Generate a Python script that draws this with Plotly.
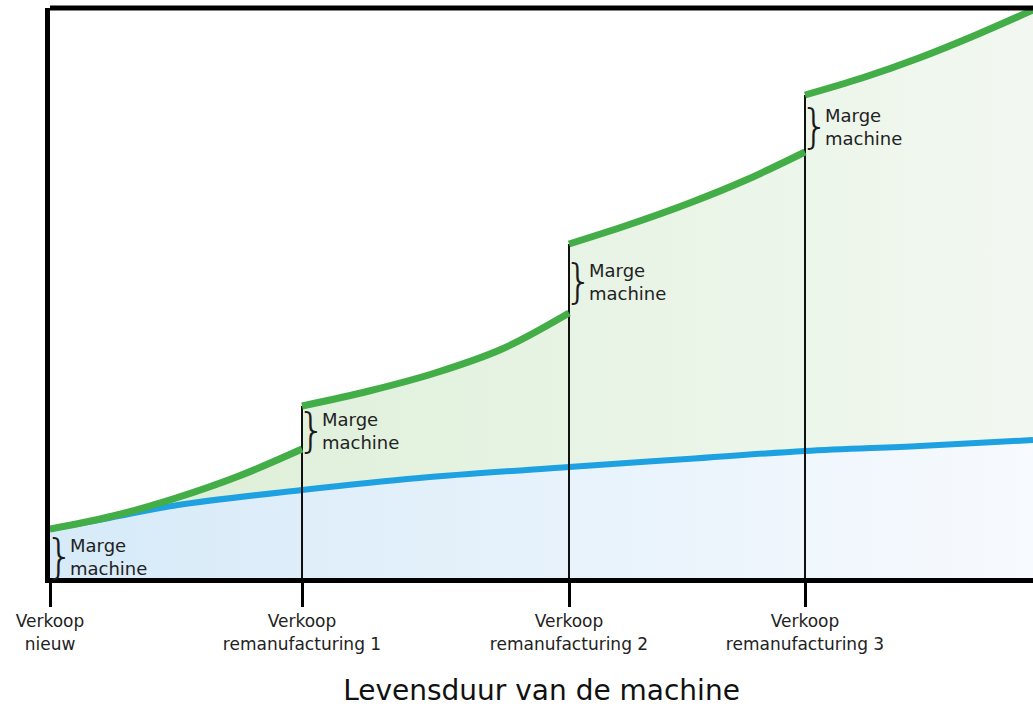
import plotly.graph_objects as go

# ---- data (x: lifetime position, y: value) ----
sale_x = [0, 252, 519, 755]
sale_labels = ["Verkoop<br>nieuw", "Verkoop<br>remanufacturing 1",
               "Verkoop<br>remanufacturing 2", "Verkoop<br>remanufacturing 3"]
x_end = 983

green_seg1_x = [0, 63, 126, 189, 252]
green_seg1_y = [49, 62, 80, 102, 129]
green_seg2_x = [252, 319, 385, 452, 519]
green_seg2_y = [172, 187, 205, 229, 265]
green_seg3_x = [519, 578, 637, 696, 755]
green_seg3_y = [334, 353, 374, 398, 426]
green_seg4_x = [755, 812, 869, 926, 983]
green_seg4_y = [483, 500, 520, 543, 568]

blue_x = [0, 59, 128, 252, 369, 519, 637, 755, 870, 983]
blue_y = [49, 60, 73, 88, 100, 111, 119, 127, 132, 138]

margin_text = "Marge<br>machine"
x_title = "Levensduur van de machine"

FONT = "DejaVu Sans"
GREEN = "#43ad47"
BLUE = "#1da1e0"

green_segs = [(green_seg1_x, green_seg1_y), (green_seg2_x, green_seg2_y),
              (green_seg3_x, green_seg3_y), (green_seg4_x, green_seg4_y)]

fig = go.Figure()

# green area (under the green curve)
for gx, gy in green_segs:
    fig.add_trace(go.Scatter(
        x=gx, y=gy, mode="lines", line=dict(width=0, shape="spline"),
        fill="tozeroy",
        fillgradient=dict(type="horizontal", start=0, stop=x_end,
                          colorscale=[[0, "#dbeed5"], [1, "#f2f8f1"]]),
        hoverinfo="skip", showlegend=False))

# blue area
fig.add_trace(go.Scatter(
    x=blue_x, y=blue_y, mode="lines", line=dict(width=0, shape="spline"),
    fill="tozeroy",
    fillgradient=dict(type="horizontal", start=0, stop=x_end,
                      colorscale=[[0, "#d6eaf8"], [1, "#f7fafe"]]),
    hoverinfo="skip", showlegend=False))

# blue line
fig.add_trace(go.Scatter(
    x=blue_x, y=blue_y, mode="lines",
    line=dict(color=BLUE, width=6, shape="spline"),
    hoverinfo="skip", showlegend=False))

# vertical sale lines
for i in range(1, 4):
    gx, gy = green_segs[i]
    fig.add_trace(go.Scatter(
        x=[sale_x[i], sale_x[i]], y=[0, gy[0]], mode="lines",
        line=dict(color="#111111", width=2),
        hoverinfo="skip", showlegend=False))

# green lines
for gx, gy in green_segs:
    fig.add_trace(go.Scatter(
        x=gx, y=gy, mode="lines",
        line=dict(color=GREEN, width=7, shape="spline"),
        hoverinfo="skip", showlegend=False))

# margin braces + labels
annotations = []
for i, (gx, gy) in enumerate(green_segs):
    top = gy[0]
    if i == 0:
        bottom = 0
    else:
        bottom = green_segs[i - 1][1][-1]
    mid = (top + bottom) / 2
    annotations.append(dict(
        x=sale_x[i], y=mid, xref="x", yref="y", text="}",
        showarrow=False, xanchor="center", yanchor="middle", xshift=9,
        yshift=-2,
        font=dict(family="DejaVu Sans", size=46, color="#1a1a1a", weight=200)))
    annotations.append(dict(
        x=sale_x[i], y=mid, xref="x", yref="y", text=margin_text,
        showarrow=False, xanchor="left", yanchor="middle", xshift=18,
        align="left", yshift=-3,
        font=dict(family=FONT, size=18, color="#222222")))

shapes = [
    dict(type="line", xref="paper", yref="paper", x0=0, x1=1, y0=1, y1=1,
         line=dict(color="black", width=5)),
]

fig.update_layout(
    width=1033, height=707,
    margin=dict(l=50, r=0, t=8, b=129),
    paper_bgcolor="white", plot_bgcolor="white",
    showlegend=False,
    annotations=annotations,
    shapes=shapes,
    xaxis=dict(range=[0, x_end], tickvals=sale_x, ticktext=sale_labels,
               showgrid=False, zeroline=False, showline=True,
               linecolor="black", linewidth=5, automargin=False,
               ticks="outside", ticklen=24, tickwidth=3, tickcolor="black",
               tickfont=dict(family=FONT, size=17, color="#222222"),
               title=dict(text=x_title, standoff=32,
                          font=dict(family=FONT, size=28, color="#111111"))),
    yaxis=dict(range=[0, 570], showticklabels=False, showgrid=False,
               zeroline=False, showline=True, linecolor="black",
               linewidth=5, ticks="", automargin=False),
)

fig.write_html("out.html",
               config={"displayModeBar": False},
               post_script="document.body.style.margin='0';")
